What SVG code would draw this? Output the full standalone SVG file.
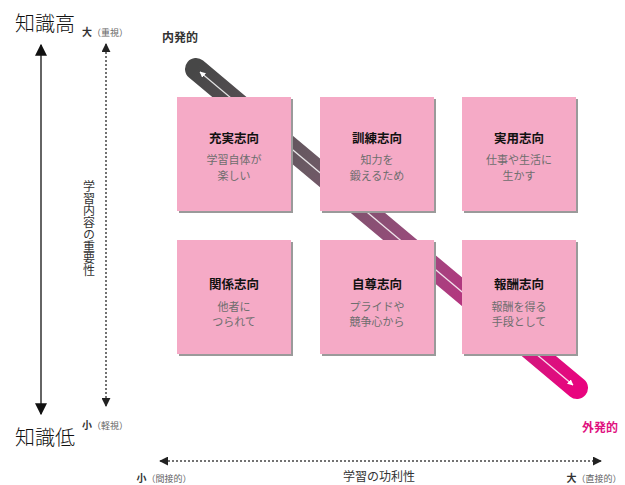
<svg xmlns="http://www.w3.org/2000/svg" width="625" height="485" viewBox="0 0 625 485">
<defs>
<style>
text{font-family:"Noto Sans CJK JP","Noto Sans CJK SC",sans-serif;}
.box{fill:#f5aac6;}
.sh{fill:#9a9a9a;}
.t{font-size:12.5px;font-weight:bold;fill:#111;text-anchor:middle;}
.s{font-size:11px;fill:#6e6e6e;text-anchor:middle;}
.big{font-size:20px;fill:#111;font-weight:300;}
.ax{stroke:#111;stroke-width:1.3;fill:none;}
.dot{stroke:#444;stroke-width:1.5;stroke-dasharray:2 2;fill:none;}
.lb{font-size:10px;font-weight:bold;fill:#333;}
.lbs{font-size:9px;font-weight:normal;fill:#666;}
</style>
<linearGradient id="bandg" gradientUnits="userSpaceOnUse" x1="196" y1="69" x2="577" y2="388">
<stop offset="0" stop-color="#474747"/>
<stop offset="0.3" stop-color="#6b5a64"/>
<stop offset="0.6" stop-color="#a0487f"/>
<stop offset="1" stop-color="#e8047e"/>
</linearGradient>
<marker id="wa" viewBox="0 0 10 10" refX="9" refY="5" markerWidth="6" markerHeight="6" markerUnits="userSpaceOnUse" orient="auto-start-reverse">
<path d="M0,0 L10,5 L0,10 z" fill="#ffffff"/>
</marker>
<marker id="ba" viewBox="0 0 10 10" refX="9" refY="5" markerWidth="12" markerHeight="12" markerUnits="userSpaceOnUse" orient="auto-start-reverse">
<path d="M0,0 L10,5 L0,10 z" fill="#111"/>
</marker>
<marker id="da" viewBox="0 0 10 10" refX="9" refY="5" markerWidth="9" markerHeight="9" markerUnits="userSpaceOnUse" orient="auto-start-reverse">
<path d="M0,0 L10,5 L0,10 z" fill="#222"/>
</marker>
</defs>

<g id="connectors">
<line x1="41" y1="45" x2="41" y2="414" class="ax" marker-start="url(#ba)" marker-end="url(#ba)"/>
<line x1="106" y1="44" x2="106" y2="406" class="dot" marker-start="url(#da)" marker-end="url(#da)"/>
<line x1="160" y1="461" x2="601" y2="461" class="dot" marker-start="url(#da)" marker-end="url(#da)"/>
<g id="band">
<line x1="196" y1="69" x2="577" y2="388" stroke="url(#bandg)" stroke-width="22" stroke-linecap="round"/>
<line x1="200" y1="72" x2="573" y2="385" stroke="#ffffff" stroke-opacity="0.85" stroke-width="1.3" marker-start="url(#wa)" marker-end="url(#wa)"/>
</g>
</g>

<g id="labels">
<text x="15" y="31" class="big">知識高</text>
<text x="15" y="445" class="big">知識低</text>
<text x="105" y="36" class="lb" text-anchor="middle">大<tspan class="lbs">（重視）</tspan></text>
<text x="105" y="429" class="lb" text-anchor="middle">小<tspan class="lbs">（軽視）</tspan></text>
<text x="89" y="228" style="writing-mode:vertical-rl;font-size:12px;fill:#333;" text-anchor="middle">学習内容の重要性</text>
<text x="164" y="482" class="lb" text-anchor="middle">小<tspan class="lbs">（間接的）</tspan></text>
<text x="594" y="482" class="lb" text-anchor="middle">大<tspan class="lbs">（直接的）</tspan></text>
<text x="379" y="481" text-anchor="middle" style="font-size:12px;fill:#333;">学習の功利性</text>
<text x="180" y="42" text-anchor="middle" style="font-size:12px;font-weight:bold;fill:#333;">内発的</text>
<text x="600" y="432" text-anchor="middle" style="font-size:12px;font-weight:bold;fill:#e0117f;">外発的</text>
</g>

<g id="n1">
<rect x="179" y="99" width="114" height="114" class="sh"/>
<rect x="177" y="97" width="114" height="114" class="box"/>
<text x="234" y="143" class="t">充実志向</text>
<text x="234" y="164" class="s">学習自体が</text>
<text x="234" y="180" class="s">楽しい</text>
</g>
<g id="n2">
<rect x="322" y="99" width="114" height="114" class="sh"/>
<rect x="320" y="97" width="114" height="114" class="box"/>
<text x="377" y="143" class="t">訓練志向</text>
<text x="377" y="164" class="s">知力を</text>
<text x="377" y="180" class="s">鍛えるため</text>
</g>
<g id="n3">
<rect x="464" y="99" width="114" height="114" class="sh"/>
<rect x="462" y="97" width="114" height="114" class="box"/>
<text x="519" y="143" class="t">実用志向</text>
<text x="519" y="164" class="s">仕事や生活に</text>
<text x="519" y="180" class="s">生かす</text>
</g>
<g id="n4">
<rect x="179" y="242" width="114" height="114" class="sh"/>
<rect x="177" y="240" width="114" height="114" class="box"/>
<text x="234" y="289" class="t">関係志向</text>
<text x="234" y="311" class="s">他者に</text>
<text x="234" y="326" class="s">つられて</text>
</g>
<g id="n5">
<rect x="322" y="242" width="114" height="114" class="sh"/>
<rect x="320" y="240" width="114" height="114" class="box"/>
<text x="377" y="289" class="t">自尊志向</text>
<text x="377" y="311" class="s">プライドや</text>
<text x="377" y="326" class="s">競争心から</text>
</g>
<g id="n6">
<rect x="464" y="242" width="114" height="114" class="sh"/>
<rect x="462" y="240" width="114" height="114" class="box"/>
<text x="519" y="289" class="t">報酬志向</text>
<text x="519" y="311" class="s">報酬を得る</text>
<text x="519" y="326" class="s">手段として</text>
</g>
</svg>
